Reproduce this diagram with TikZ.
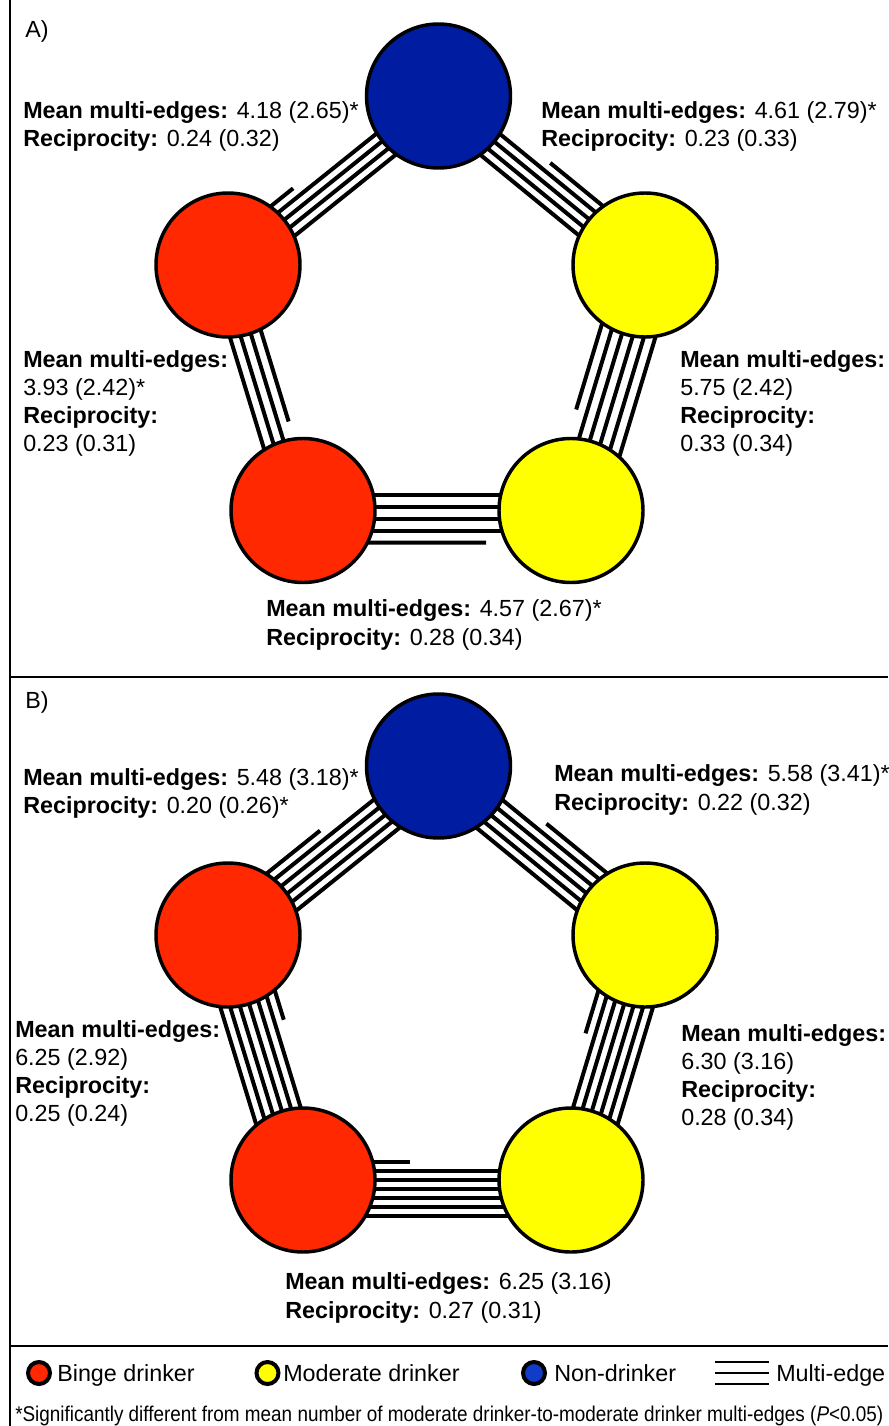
\documentclass[tikz,border=0pt]{standalone}
\usepackage{fontspec}
\setmainfont{Liberation Sans}
\usepackage{graphicx}
\usetikzlibrary{calc,backgrounds}

\definecolor{binge}{RGB}{255,40,0}
\definecolor{moderate}{RGB}{255,255,0}
\definecolor{nondrink}{RGB}{0,28,160}
\definecolor{nondrinkkey}{RGB}{16,60,200}

\tikzset{
  person/.style={circle, draw=black, line width=2.6pt, minimum size=108pt, inner sep=0pt},
  edgeline/.style={draw=black, line width=3pt},
  stat/.style={anchor=base west, inner sep=0pt, font=\fontsize{17.5}{21}\selectfont},
  keydot/.style={circle, draw=black, line width=3pt, minimum size=16.5pt, inner sep=0pt},
  keyline/.style={draw=black, line width=2.2pt},
  frame/.style={draw=black, line width=1.5pt},
}

% #1 start node, #2 end node, #3 number of full lines, #4 spacing (px),
% #5 shift of the bundle (px), #6 side of the partial line (+1 left, -1 right of #1->#2),
% #7 how far the partial line reaches from #1 towards #2
\newcommand\drawbundle[7]{%
  \foreach \j in {1,...,#3}{%
    \pgfmathsetmacro\off{0.75*(#5 + (\j - (#3+1)/2 - #6/2)*#4)}%
    \draw[edgeline] ($(#1)!\off pt!90:(#2)$) -- ($(#2)!\off pt!-90:(#1)$);
  }%
  \pgfmathsetmacro\soff{0.75*(#5 + #6*#3/2*#4)}%
  \draw[edgeline] ($(#1)!\soff pt!90:(#2)$) -- ($(#1)!#7!(#2)!\soff pt!90:(#2)$);
}

\begin{document}
\begin{tikzpicture}[x=0.75pt,y=-0.75pt]
\useasboundingbox (0,0) rectangle (888,1426);

% panel frame
\draw[frame] (10,0) -- (10,1426);
\draw[frame] (10,677) -- (888,677);
\draw[frame] (10,1346) -- (888,1346);

% ---------- panel A ----------
\node[stat] (alabel) at (25,38) {A)};
\node[person, fill=nondrink] (ablue) at (438.5,96) {};
\node[person, fill=binge]    (ared1) at (228,265) {};
\node[person, fill=moderate] (ayel1) at (645,265) {};
\node[person, fill=binge]    (ared2) at (303,510.5) {};
\node[person, fill=moderate] (ayel2) at (571,510.5) {};

\begin{pgfonlayer}{background}
  \drawbundle{ared1}{ablue}{4}{9.5}{0}{1}{0.366}
  \drawbundle{ayel1}{ablue}{4}{9.5}{0}{-1}{0.517}
  \drawbundle{ared1}{ared2}{3}{10.5}{-3.5}{1}{0.652}
  \drawbundle{ayel1}{ayel2}{5}{11}{3.3}{-1}{0.617}
  \drawbundle{ared2}{ayel2}{4}{12}{-8}{-1}{0.683}
\end{pgfonlayer}

\node[stat] (a1a) at (23,119) {\textbf{Mean multi-edges:} 4.18 (2.65)*};
\node[stat] (a1b) at (23,147) {\textbf{Reciprocity:} 0.24 (0.32)};
\node[stat] (a2a) at (541,119) {\textbf{Mean multi-edges:} 4.61 (2.79)*};
\node[stat] (a2b) at (541,147) {\textbf{Reciprocity:} 0.23 (0.33)};
\node[stat] (a3a) at (23,367) {\textbf{Mean multi-edges:}};
\node[stat] (a3b) at (23,395) {3.93 (2.42)*};
\node[stat] (a3c) at (23,423) {\textbf{Reciprocity:}};
\node[stat] (a3d) at (23,451) {0.23 (0.31)};
\node[stat] (a4a) at (680,367) {\textbf{Mean multi-edges:}};
\node[stat] (a4b) at (680,395) {5.75 (2.42)};
\node[stat] (a4c) at (680,423) {\textbf{Reciprocity:}};
\node[stat] (a4d) at (680,451) {0.33 (0.34)};
\node[stat] (a5a) at (266,616) {\textbf{Mean multi-edges:} 4.57 (2.67)*};
\node[stat] (a5b) at (266,645) {\textbf{Reciprocity:} 0.28 (0.34)};

% ---------- panel B ----------
\node[stat] (blabel) at (25,708) {B)};
\node[person, fill=nondrink] (bblue) at (438.5,766) {};
\node[person, fill=binge]    (bred1) at (228,935) {};
\node[person, fill=moderate] (byel1) at (645,935) {};
\node[person, fill=binge]    (bred2) at (303,1180) {};
\node[person, fill=moderate] (byel2) at (571,1180) {};

\begin{pgfonlayer}{background}
  \drawbundle{bred1}{bblue}{5}{9.5}{0}{1}{0.508}
  \drawbundle{byel1}{bblue}{5}{9.5}{0}{-1}{0.55}
  \drawbundle{bred1}{bred2}{6}{9.5}{0}{1}{0.38}
  \drawbundle{byel1}{byel2}{6}{9.5}{0}{-1}{0.435}
  \drawbundle{bred2}{byel2}{6}{9}{-9}{1}{0.40}
\end{pgfonlayer}

\node[stat] (b1a) at (23,785) {\textbf{Mean multi-edges:} 5.48 (3.18)*};
\node[stat] (b1b) at (23,813) {\textbf{Reciprocity:} 0.20 (0.26)*};
\node[stat] (b2a) at (554,781) {\textbf{Mean multi-edges:} 5.58 (3.41)*};
\node[stat] (b2b) at (554,810) {\textbf{Reciprocity:} 0.22 (0.32)};
\node[stat] (b3a) at (15,1037) {\textbf{Mean multi-edges:}};
\node[stat] (b3b) at (15,1065) {6.25 (2.92)};
\node[stat] (b3c) at (15,1093) {\textbf{Reciprocity:}};
\node[stat] (b3d) at (15,1121) {0.25 (0.24)};
\node[stat] (b4a) at (681,1041) {\textbf{Mean multi-edges:}};
\node[stat] (b4b) at (681,1069) {6.30 (3.16)};
\node[stat] (b4c) at (681,1097) {\textbf{Reciprocity:}};
\node[stat] (b4d) at (681,1125) {0.28 (0.34)};
\node[stat] (b5a) at (285,1289) {\textbf{Mean multi-edges:} 6.25 (3.16)};
\node[stat] (b5b) at (285,1318) {\textbf{Reciprocity:} 0.27 (0.31)};

% ---------- key ----------
\node[keydot, fill=binge]       (kred)  at (39,1373) {};
\node[stat] (kredt)  at (57,1381) {Binge drinker};
\node[keydot, fill=moderate]    (kyel)  at (267.5,1373) {};
\node[stat] (kyelt)  at (283,1381) {Moderate drinker};
\node[keydot, fill=nondrinkkey] (kblue) at (534,1373) {};
\node[stat] (kbluet) at (554,1381) {Non-drinker};
\coordinate (kl1) at (715,1362); \coordinate (kr1) at (769,1362);
\coordinate (kl2) at (715,1373); \coordinate (kr2) at (769,1373);
\coordinate (kl3) at (715,1384); \coordinate (kr3) at (769,1384);
\draw[keyline] (kl1) -- (kr1);
\draw[keyline] (kl2) -- (kr2);
\draw[keyline] (kl3) -- (kr3);
\node[stat] (kedget) at (776,1381) {Multi-edge};

\node[anchor=base west, inner sep=0pt] (note) at (15,1421)
  {\resizebox{651pt}{\height}{\fontsize{16}{19}\selectfont *Significantly different from mean number of moderate drinker-to-moderate drinker multi-edges (\textit{P}<0.05)}};
\end{tikzpicture}
\end{document}
